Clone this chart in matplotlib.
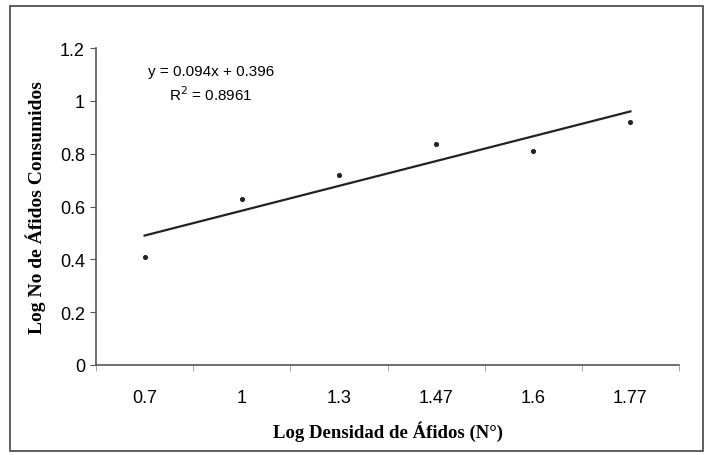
import matplotlib
matplotlib.use("Agg")
import matplotlib.pyplot as plt
from matplotlib.patches import Rectangle
import numpy as np

categories = ["0.7", "1", "1.3", "1.47", "1.6", "1.77"]
consumed = [0.41, 0.63, 0.72, 0.835, 0.81, 0.92]
slope = 0.094
intercept = 0.396
r2 = 0.8961
y_ticks = [0, 0.2, 0.4, 0.6, 0.8, 1, 1.2]
y_tick_labels = ["0", "0.2", "0.4", "0.6", "0.8", "1", "1.2"]

fig = plt.figure(figsize=(7.07, 4.56), dpi=100)
fig.patch.set_facecolor("white")
fig.patches.append(Rectangle((0.0141, 0.0088), 0.980, 0.976, transform=fig.transFigure,
                             fill=False, edgecolor="#444444", linewidth=1.2))

ax = fig.add_axes([0.1358, 0.1974, 0.8246, 0.6951])
x = np.arange(1, len(categories) + 1)
ax.scatter(x, consumed, s=7, color="#222222", zorder=3)
xl = np.array([x[0], x[-1]])
ax.plot(xl, slope * xl + intercept, color="#222222", linewidth=1.6)

ax.set_xlim(0.5, len(categories) + 0.5)
ax.set_ylim(0, 1.2)
ax.set_xticks(x)
ax.set_xticklabels(categories, fontfamily="Liberation Sans", fontsize=13)
ax.set_xticks(np.arange(0.5, len(categories) + 1, 1), minor=True)
ax.tick_params(axis="x", which="major", length=0, pad=17)
ax.tick_params(axis="x", which="minor", length=4, color="#999999")
ax.set_yticks(y_ticks)
ax.set_yticklabels(y_tick_labels, fontfamily="Liberation Sans", fontsize=13)
ax.tick_params(axis="y", length=4, color="#555555", pad=4)

for s in ["top", "right"]:
    ax.spines[s].set_visible(False)
for s in ["left", "bottom"]:
    ax.spines[s].set_color("#555555")
    ax.spines[s].set_linewidth(1.2)

ax.set_xlabel("Log Densidad de Áfidos (N°)", fontfamily="Liberation Serif",
              fontweight="bold", fontsize=13.5, labelpad=11)
ax.set_ylabel("Log No de Áfidos Consumidos", fontfamily="Liberation Serif",
              fontweight="bold", fontsize=14, labelpad=10)

fig.text(211 / 707, 1 - 72 / 456, f"y = {slope}x + {intercept}", ha="center", va="center",
         fontfamily="Liberation Sans", fontsize=11)
fig.text(211 / 707, 1 - 95 / 456, f"R$^2$ = {r2}", ha="center", va="center",
         fontfamily="Liberation Sans", fontsize=11)

fig.savefig("out.png", dpi=100)
